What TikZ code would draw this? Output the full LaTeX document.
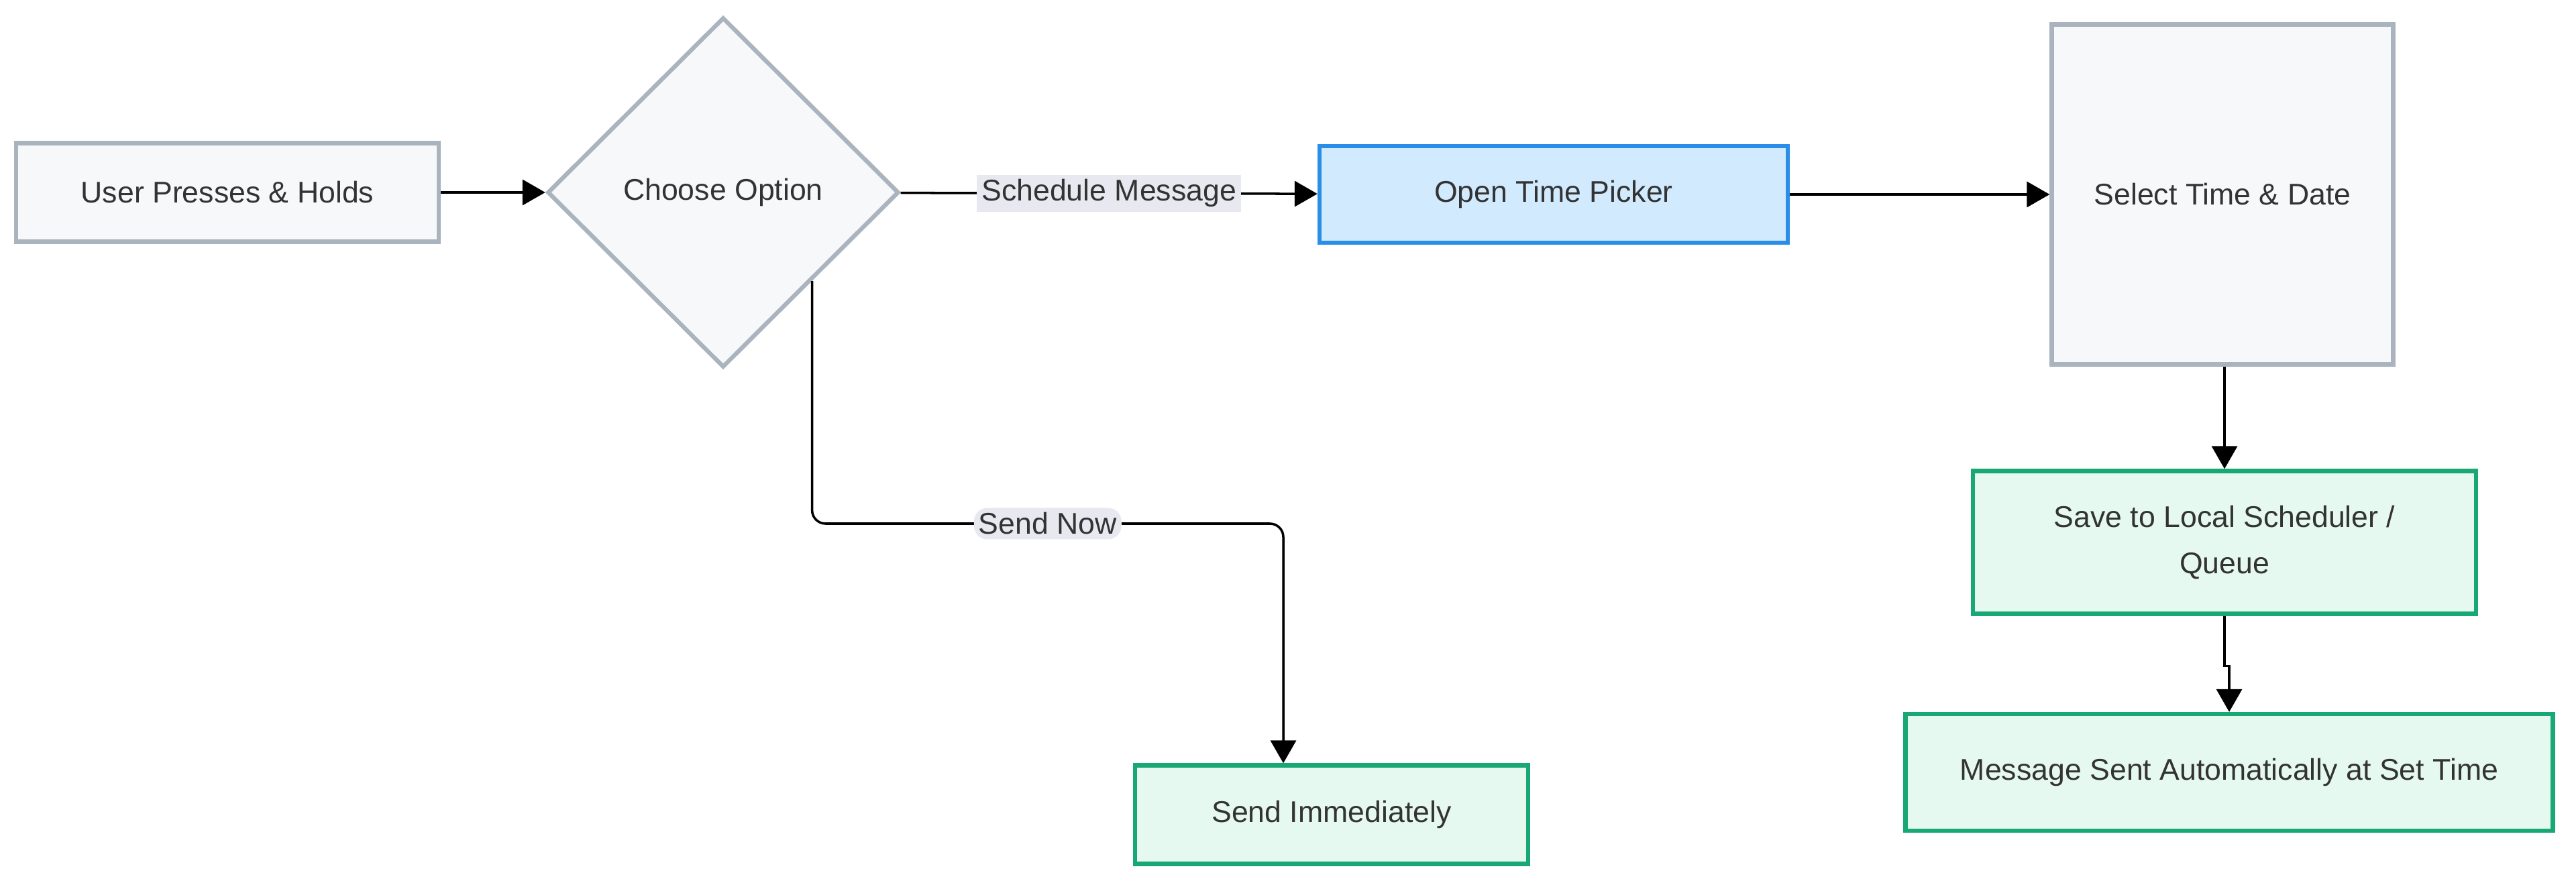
\documentclass[tikz,border=0pt]{standalone}
\usepackage{fontspec}
\setmainfont{Liberation Sans}
\usepackage{tikz}
\usetikzlibrary{arrows.meta, positioning, calc, shapes.geometric}
\definecolor{greyline}{HTML}{A9B4BE}
\definecolor{greyfill}{HTML}{F7F8FA}
\definecolor{blueline}{HTML}{2A8DE8}
\definecolor{bluefill}{HTML}{D2EAFD}
\definecolor{greenline}{HTML}{17A876}
\definecolor{greenfill}{HTML}{E5F9F1}
\definecolor{labelfill}{HTML}{E8E8F1}
\definecolor{textgrey}{HTML}{333333}

\begin{document}
\begin{tikzpicture}[
    >={Triangle[length=0.34cm, width=0.38cm]},
    every node/.style={font=\fontsize{12.7}{19.5}\selectfont, text=textgrey},
    box/.style={draw=greyline, fill=greyfill, line width=1.8pt, inner sep=0pt},
    bluebox/.style={box, draw=blueline, fill=bluefill},
    greenbox/.style={box, draw=greenline, fill=greenfill},
    decision/.style={box, diamond, aspect=1},
    flow/.style={->, line width=1pt},
    edgelabel/.style={fill=labelfill, inner sep=2pt},
]
    \useasboundingbox (0,0) rectangle (38.4,-13.17);

    % Main row
    \node[box, minimum width=6.30cm, minimum height=1.47cm] (user) at (3.39,-2.87) {User Presses \& Holds};
    \node[decision, minimum width=5.24cm, minimum height=5.22cm] (choose) at (10.78,-2.87) {Choose Option};
    \node[bluebox, minimum width=6.98cm, minimum height=1.44cm] (picker) at (23.16,-2.90) {Open Time Picker};
    \node[box, minimum width=5.09cm, minimum height=5.07cm] (select) at (33.13,-2.90) {Select Time \& Date};

    % Results
    \node[greenbox, minimum width=7.50cm, minimum height=2.13cm, align=center] (save) at (33.16,-8.09) {Save to Local Scheduler /\\Queue};
    \node[greenbox, minimum width=9.65cm, minimum height=1.74cm] (sent) at (33.23,-11.52) {Message Sent Automatically at Set Time};
    \node[greenbox, minimum width=5.86cm, minimum height=1.47cm] (immediate) at (19.85,-12.15) {Send Immediately};

    \coordinate (nowbend) at (19.13,-7.81);

    \draw[flow] (user) -- (choose);
    \draw[flow] (choose) -- node[edgelabel] {Schedule Message} (picker);
    \draw[flow] (picker) -- (select);
    \draw[flow, rounded corners=0.2cm] (choose.south east) |- node[edgelabel, pos=0.75] {Send Now} (nowbend) -- (nowbend |- immediate.north);
    \draw[flow] (save.north |- select.south) -- (save.north);
    \draw[flow] (save.south) -- ++(0,-0.75) -| (sent.north);
\end{tikzpicture}
\end{document}
